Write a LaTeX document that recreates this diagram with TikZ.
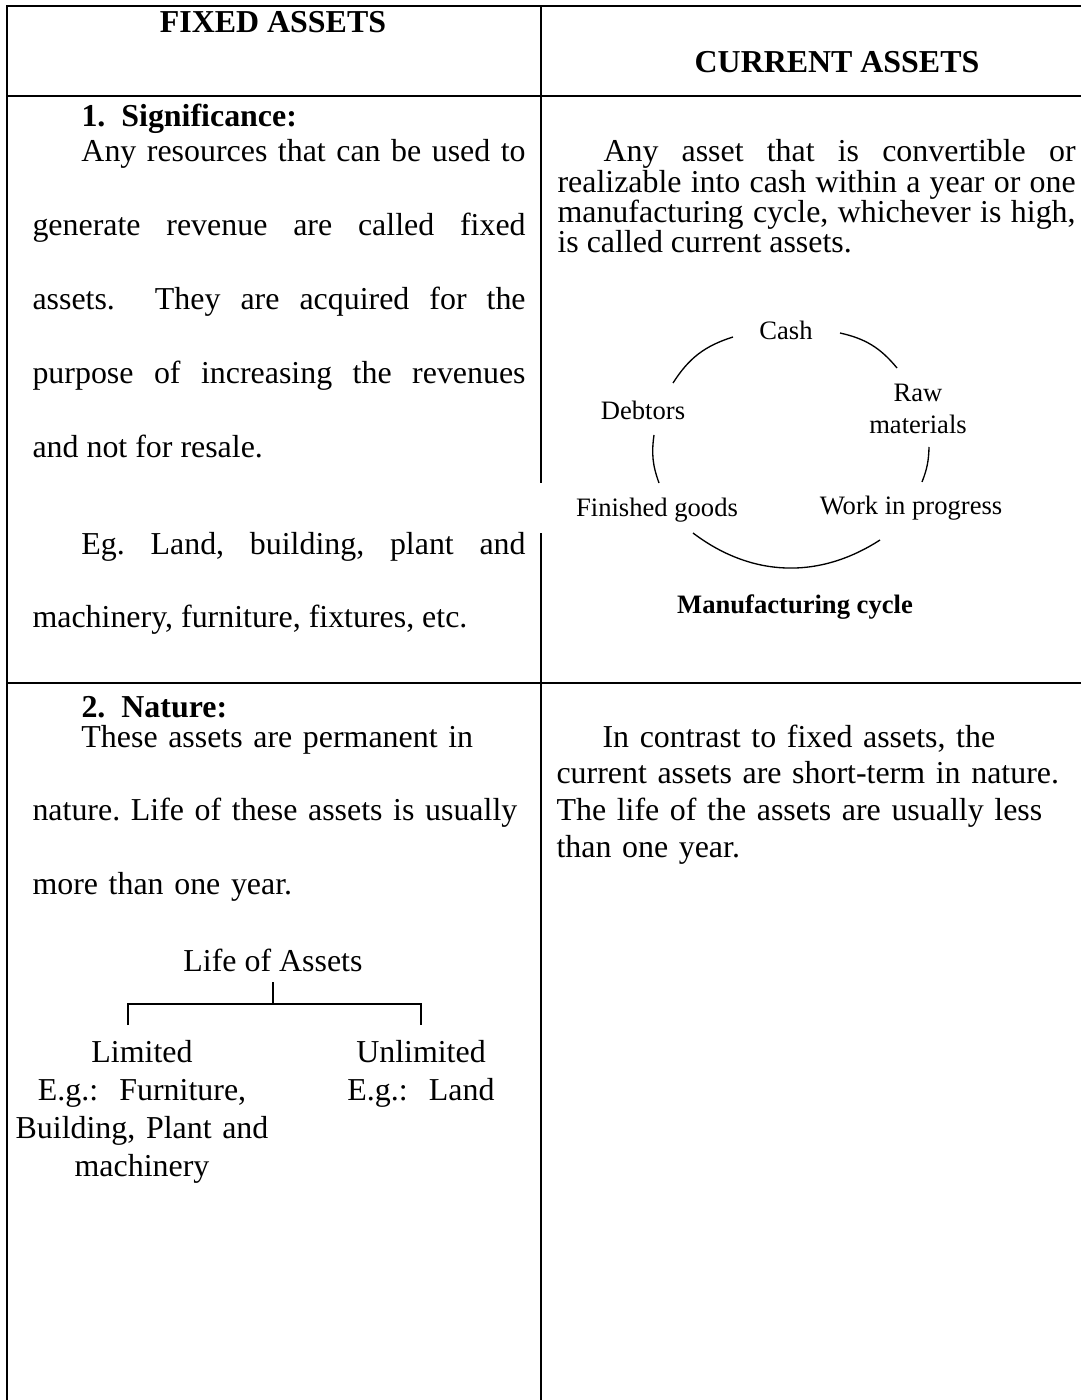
\documentclass[tikz,border=0pt]{standalone}
\usepackage{fontspec}
\setmainfont{Liberation Serif}
\frenchspacing

\tikzset{
  rule/.style={line width=0.75pt},
  arc/.style={line width=0.5pt},
  head/.style={inner sep=0pt, font=\fontsize{12}{14}\selectfont\bfseries},
  txt/.style={inner sep=0pt, anchor=base west, font=\fontsize{12}{13.8}\selectfont},
  dbl/.style={txt, font=\fontsize{12}{27.8}\selectfont},
  just/.style={align=justify, execute at begin node={\tolerance=10000\hyphenpenalty=10000}},
  lbl/.style={inner sep=0pt, font=\fontsize{10}{12}\selectfont},
}

\begin{document}
\begin{tikzpicture}[x=0.376pt, y=-0.376pt]
    \path[use as bounding box, fill=white] (0,0) rectangle (1081,1400);

    % table rules
    \draw[rule] (7,1400) -- (7,6) -- (1081,6);
    \draw[rule] (7,96) -- (1081,96);
    \draw[rule] (7,683) -- (1081,683);
    \draw[rule] (541,6) -- (541,483) (541,533) -- (541,1400);

    % headings
    \node[head] (fixed) at (273,22) {FIXED ASSETS};
    \node[head] (current) at (837,62) {CURRENT ASSETS};

    % row 1: significance
    \node[txt, font=\fontsize{12}{13.8}\selectfont\bfseries] (sig) at (81,127) {1.\hspace{6pt}Significance:};
    \node[dbl, just, text width=185.4pt] (sigtext) at (32,162)
      {\hspace*{18.4pt}Any resources that can be used to\linebreak
       generate revenue are called fixed\linebreak
       assets.\ \ They are acquired for the\linebreak
       purpose of increasing the revenues\linebreak
       and not for resale.};
    \node[dbl, just, text width=185.4pt] (egfixed) at (32,554)
      {\hspace*{18.4pt}Eg. Land, building, plant and\linebreak
       machinery, furniture, fixtures, etc.};
    \node[txt, just, text width=194.8pt, font=\fontsize{12}{11.3}\selectfont] (cadef) at (557,162)
      {\hspace*{17.3pt}Any asset that is convertible or\linebreak
       realizable into cash within a year or one\linebreak
       manufacturing cycle, whichever is high,\linebreak
       is called current assets.};

    % manufacturing cycle
    \node[lbl] (cash) at (786,330) {Cash};
    \node[lbl, align=center] (raw) at (918,409) {Raw\\materials};
    \node[lbl] (debtors) at (643,410) {Debtors};
    \node[lbl] (finished) at (657,510) {Finished goods};
    \node[lbl] (wip) at (911,508) {Work in progress};
    \node[lbl, font=\fontsize{10}{12}\selectfont\bfseries] (mfgcycle) at (795,607) {Manufacturing cycle};
    \coordinate (a1) at (673,383);
    \coordinate (a2) at (733,337);
    \coordinate (a3) at (840,333);
    \coordinate (a4) at (897,368);
    \coordinate (a5) at (929,447);
    \coordinate (a6) at (922,482);
    \coordinate (a7) at (880,540);
    \coordinate (a8) at (693,533);
    \coordinate (a9) at (659,483);
    \coordinate (a10) at (654,435);
    \draw[arc] (a1) to[bend left=20] (a2);
    \draw[arc] (a3) to[bend left=19] (a4);
    \draw[arc] (a5) to[bend left=10] (a6);
    \draw[arc] (a7) to[bend left=35] (a8);
    \draw[arc] (a9) to[bend left=14] (a10);

    % row 2: nature
    \node[txt, font=\fontsize{12}{13.8}\selectfont\bfseries] (nat) at (81,717) {2.\hspace{6pt}Nature:};
    \node[dbl, text width=200pt, align=left] (nattext) at (32,747)
      {\hspace*{18.4pt}These assets are permanent in\\
       nature. Life of these assets is usually\\
       more than one year.};
    \node[txt, text width=200pt, align=left] (catext) at (556,747)
      {\hspace*{17.3pt}In contrast to fixed assets, the\\
       current assets are short-term in nature.\\
       The life of the assets are usually less\\
       than one year.};

    % life of assets
    \node[txt, anchor=center] (life) at (273,960) {Life of Assets};
    \coordinate (stem) at (273,982);
    \coordinate (fork) at (273,1004);
    \coordinate (legl) at (128,1025);
    \coordinate (legr) at (421,1025);
    \draw[rule] (stem) -- (fork);
    \draw[rule] (legl) |- (fork) -| (legr);
    \node[txt, anchor=base, align=center, text width=100pt, font=\fontsize{12}{14.3}\selectfont] (limited) at (142,1062)
      {Limited\\E.g.:\ \ Furniture,\\Building, Plant and\\machinery};
    \node[txt, anchor=base, align=center, text width=60pt, font=\fontsize{12}{14.3}\selectfont] (unlimited) at (421,1062)
      {Unlimited\\E.g.:\ \ Land};
\end{tikzpicture}
\end{document}
